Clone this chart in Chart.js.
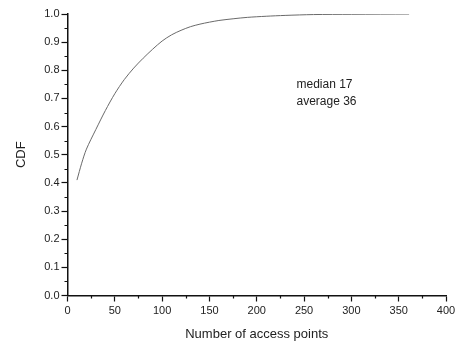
<!DOCTYPE html>
<html>
<head>
<meta charset="utf-8">
<script src="https://cdn.jsdelivr.net/npm/chart.js@4.4.0/dist/chart.umd.min.js"></script>
<style>
  html, body { margin: 0; padding: 0; background: #fff; }
  #wrap { width: 459px; height: 342px; }
</style>
</head>
<body>
<div id="wrap"><canvas id="chart"></canvas></div>
<script>
// number of access points (x) and CDF (y)
const accessPoints = [10, 15, 20, 30, 40, 50, 60, 70, 80, 90, 100, 110, 120, 130, 140, 150, 160, 175, 190, 210, 230, 260, 300, 361];
const cdfValues = [0.41, 0.47, 0.52, 0.59, 0.657, 0.717, 0.767, 0.808, 0.843, 0.875, 0.904, 0.926, 0.942, 0.955, 0.964, 0.971, 0.977, 0.983, 0.988, 0.992, 0.995, 0.998, 0.999, 1.0];

const notes = ['median 17', 'average 36'];
const notePos = { x: 242, y: 0.738 };

const FONT = "'Liberation Sans', Arial, sans-serif";

// minor ticks halfway between the major ones + the text box
const extras = {
    id: 'extras',
    afterDraw(chart) {
        const ctx = chart.ctx;
        const xs = chart.scales.x;
        const ys = chart.scales.y;
        ctx.save();
        ctx.strokeStyle = '#111';
        ctx.lineWidth = 1.2;
        ctx.beginPath();
        for (let v = 25; v < 400; v += 50) {
            const px = Math.round(xs.getPixelForValue(v)) + 0.5;
            ctx.moveTo(px, ys.bottom);
            ctx.lineTo(px, ys.bottom + 3);
        }
        for (let v = 0.05; v < 1; v += 0.1) {
            const py = Math.round(ys.getPixelForValue(v)) + 0.5;
            ctx.moveTo(xs.left, py);
            ctx.lineTo(xs.left - 3, py);
        }
        ctx.stroke();

        ctx.fillStyle = '#222';
        ctx.font = '12px ' + FONT;
        ctx.textBaseline = 'alphabetic';
        const nx = xs.getPixelForValue(notePos.x);
        const ny = ys.getPixelForValue(notePos.y);
        notes.forEach((t, i) => ctx.fillText(t, nx, ny + i * 17));
        ctx.restore();
    }
};

const ctx = document.getElementById('chart').getContext('2d');
const chart = new Chart(ctx, {
    type: 'line',
    data: {
        datasets: [{
            data: accessPoints.map((x, i) => ({ x: x, y: cdfValues[i] })),
            borderColor: '#6a6a6a',
            borderWidth: 1,
            pointRadius: 0,
            fill: false,
            tension: 0.3
        }]
    },
    options: {
        responsive: true,
        maintainAspectRatio: false,
        animation: false,
        layout: {
            padding: { top: 14, right: 13, left: 0, bottom: 0 }
        },
        plugins: {
            legend: { display: false },
            tooltip: { enabled: false }
        },
        scales: {
            x: {
                type: 'linear',
                min: 0,
                max: 400,
                afterFit: (s) => { s.height = 46.5; },
                border: { display: true, color: '#111', width: 1.5 },
                grid: {
                    drawOnChartArea: false,
                    drawTicks: true,
                    tickLength: 6,
                    tickColor: '#111',
                    tickWidth: 1.2
                },
                ticks: {
                    stepSize: 50,
                    padding: 3,
                    maxRotation: 0,
                    color: '#222',
                    font: { family: FONT, size: 11 }
                },
                title: {
                    display: true,
                    text: 'Number of access points',
                    color: '#222',
                    padding: { top: 2, bottom: 0 },
                    font: { family: FONT, size: 13 }
                }
            },
            y: {
                min: 0,
                max: 1,
                afterFit: (s) => { s.width = 67.5; },
                border: { display: true, color: '#111', width: 1.5 },
                grid: {
                    drawOnChartArea: false,
                    drawTicks: true,
                    tickLength: 6,
                    tickColor: '#111',
                    tickWidth: 1.2
                },
                ticks: {
                    stepSize: 0.1,
                    padding: 2,
                    color: '#222',
                    font: { family: FONT, size: 11 },
                    callback: (v) => v.toFixed(1)
                },
                title: {
                    display: true,
                    text: 'CDF',
                    color: '#222',
                    padding: { top: 14, bottom: 0 },
                    font: { family: FONT, size: 13 }
                }
            }
        }
    },
    plugins: [extras]
});
</script>
</body>
</html>
